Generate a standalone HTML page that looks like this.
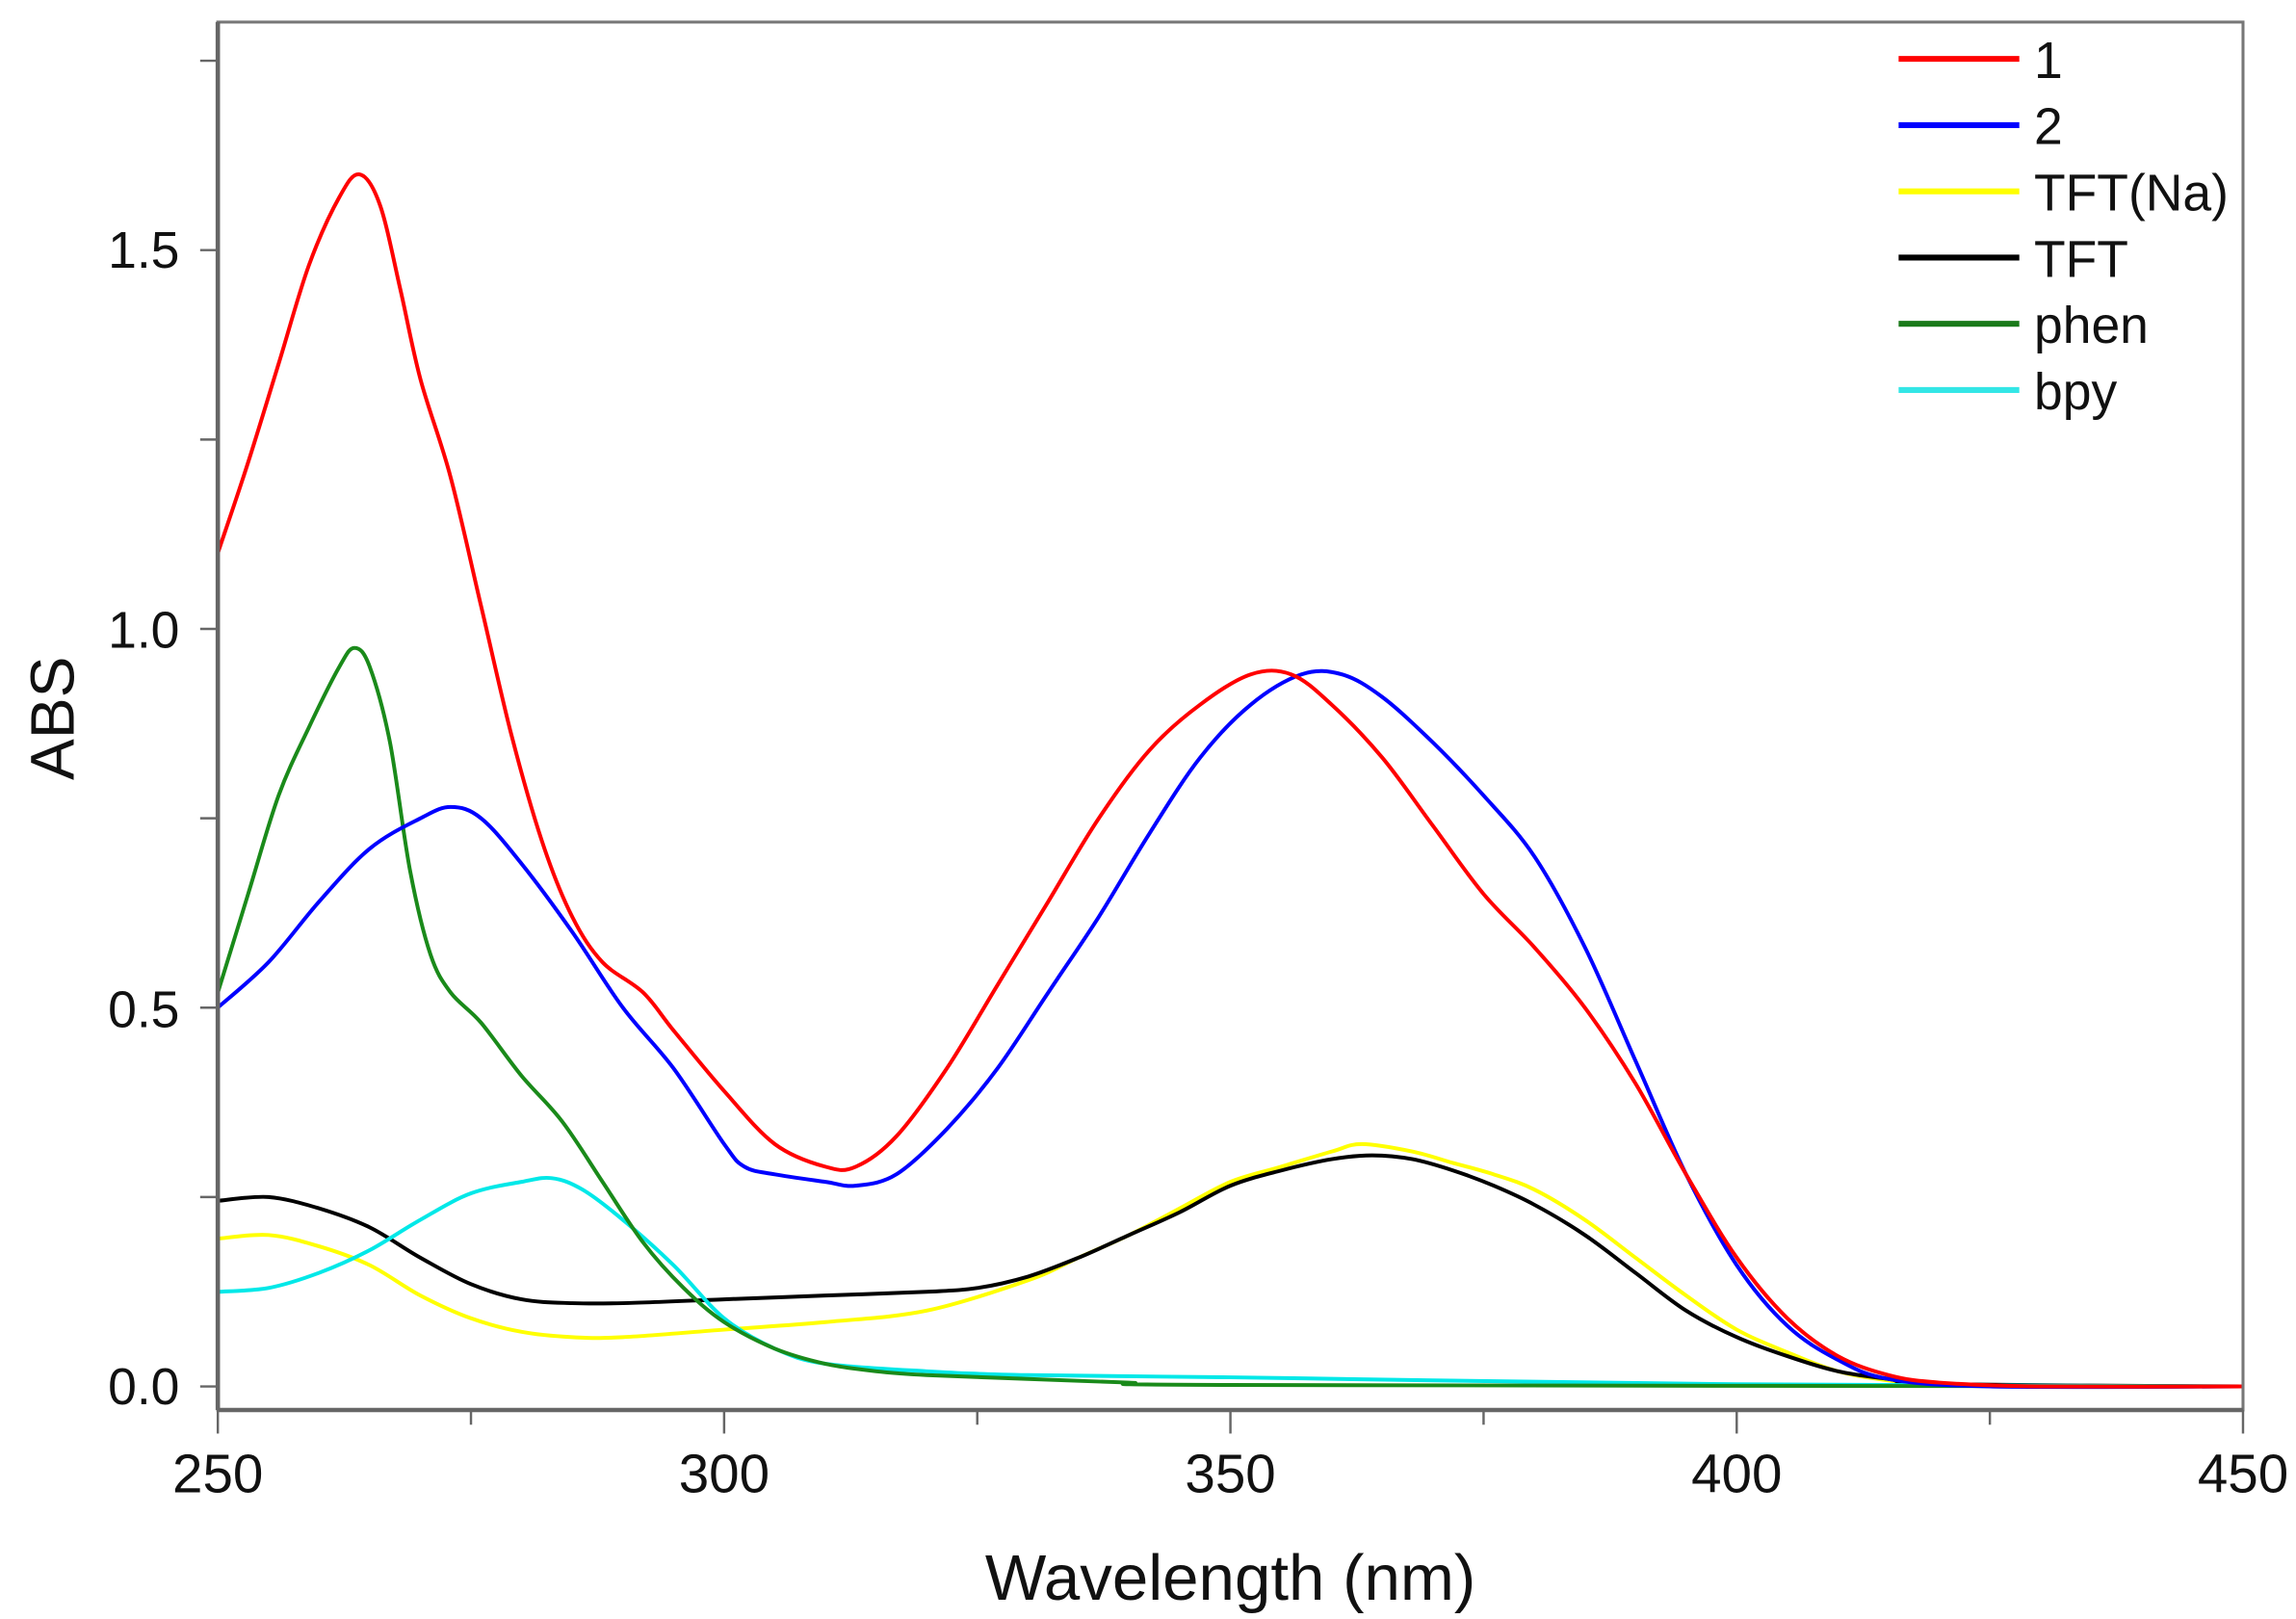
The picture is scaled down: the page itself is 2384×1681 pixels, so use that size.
<!DOCTYPE html>
<html><head><meta charset="utf-8"><style>
html,body{margin:0;padding:0;background:#fff;}
svg{display:block;}
text{font-family:"Liberation Sans",Arial,sans-serif;fill:#111;}
</style></head><body>
<svg id="s" width="2384" height="1681" viewBox="0 0 1560 1100" preserveAspectRatio="none" xmlns="http://www.w3.org/2000/svg">
<rect x="0" y="0" width="1560" height="1100" fill="#fff"/>
<g id="curves" fill="none" stroke-width="2.6" stroke-linejoin="round"></g>
<rect x="148" y="15" width="1376" height="943" fill="none" stroke="#777" stroke-width="2"/>
<line x1="148" y1="958" x2="1524" y2="958" stroke="#666" stroke-width="3"/>
<line x1="148" y1="15" x2="148" y2="958" stroke="#666" stroke-width="3"/>
<g id="ticks" stroke="#666" stroke-width="1.6"></g>
<g font-size="35" text-anchor="end">
<text x="122" y="954">0.0</text>
<text x="122" y="698">0.5</text>
<text x="122" y="440">1.0</text>
<text x="122" y="182">1.5</text>
</g>
<g font-size="37" text-anchor="middle">
<text x="148" y="1014">250</text>
<text x="492" y="1014">300</text>
<text x="836" y="1014">350</text>
<text x="1180" y="1014">400</text>
<text x="1524" y="1014">450</text>
</g>
<text x="836" y="1087" font-size="44" text-anchor="middle">Wavelength (nm)</text>
<text transform="translate(50,488) rotate(-90)" font-size="42" text-anchor="middle">ABS</text>
<g stroke-width="4">
<line x1="1290" y1="40" x2="1372" y2="40" stroke="#ff0000"/>
<line x1="1290" y1="85" x2="1372" y2="85" stroke="#0000ff"/>
<line x1="1290" y1="130" x2="1372" y2="130" stroke="#ffff00"/>
<line x1="1290" y1="175" x2="1372" y2="175" stroke="#000"/>
<line x1="1290" y1="220" x2="1372" y2="220" stroke="#1a7a1a"/>
<line x1="1290" y1="265" x2="1372" y2="265" stroke="#33e6e6"/>
</g>
<g font-size="35">
<text x="1382" y="53">1</text>
<text x="1382" y="98">2</text>
<text x="1382" y="143">TFT(Na)</text>
<text x="1382" y="188">TFT</text>
<text x="1382" y="233">phen</text>
<text x="1382" y="278">bpy</text>
</g>
</svg>
<script>
const X=w=>148+(w-250)*6.88, Y=v=>942-514.7*v;
const S={
"#ffff00":[[250,.195],[255,.2],[260,.185],[265,.16],[270,.12],[275,.09],[280,.072],[285,.065],[290,.065],[300,.075],[310,.085],[320,.1],[330,.14],[335,.17],[340,.2],[345,.235],[350,.27],[355,.29],[360,.31],[363,.32],[368,.31],[372,.295],[376,.28],[380,.26],[385,.22],[390,.17],[395,.12],[400,.075],[405,.045],[410,.02],[415,.008],[420,.002],[450,0]],
"#000000":[[250,.245],[255,.25],[260,.235],[265,.21],[270,.17],[275,.135],[280,.115],[285,.11],[290,.11],[300,.115],[310,.12],[320,.125],[325,.13],[330,.145],[335,.17],[340,.2],[345,.23],[350,.265],[355,.285],[360,.3],[364,.305],[368,.3],[372,.285],[376,.265],[380,.24],[385,.2],[390,.15],[395,.1],[400,.065],[405,.04],[410,.02],[415,.01],[420,.003],[450,0]],
"#00e8e8":[[250,.125],[255,.13],[260,.15],[265,.18],[270,.22],[275,.255],[280,.27],[283,.275],[286,.26],[290,.22],[295,.16],[300,.09],[305,.05],[310,.03],[320,.02],[330,.015],[350,.012],[370,.008],[400,.003],[450,0]],
"#1a8a1a":[[250,.52],[253,.65],[256,.78],[259,.87],[262,.95],[263.5,.975],[265,.95],[267,.85],[269,.68],[271,.57],[273,.52],[276,.48],[280,.41],[284,.35],[288,.27],[292,.19],[296,.13],[300,.085],[305,.05],[310,.03],[315,.02],[320,.015],[330,.01],[340,.005],[350,.002],[450,0]],
"#0000ff":[[250,.5],[255,.56],[260,.64],[265,.71],[270,.75],[273,.765],[276,.75],[280,.69],[285,.6],[290,.5],[295,.42],[300,.32],[302,.29],[305,.28],[310,.27],[313,.265],[317,.28],[322,.34],[327,.42],[332,.52],[337,.62],[342,.73],[347,.83],[352,.9],[357,.94],[361,.94],[365,.91],[370,.85],[375,.78],[380,.7],[385,.58],[390,.43],[395,.28],[400,.16],[405,.08],[410,.035],[415,.01],[425,0],[450,0]],
"#ff0000":[[250,1.1],[253,1.22],[256,1.35],[259,1.48],[262,1.57],[264,1.6],[266,1.56],[268,1.45],[270,1.33],[273,1.2],[276,1.03],[279,.86],[282,.72],[285,.62],[288,.56],[292,.52],[295,.47],[300,.39],[305,.32],[310,.29],[313,.29],[317,.33],[322,.42],[327,.53],[332,.64],[337,.75],[342,.84],[347,.9],[352,.94],[356,.94],[360,.9],[365,.83],[370,.74],[375,.65],[380,.58],[385,.5],[390,.4],[395,.28],[400,.17],[405,.09],[410,.04],[415,.015],[420,.005],[430,0],[450,0]]
};
const ns="http://www.w3.org/2000/svg",g=document.getElementById('curves');
for(const c in S){const p=S[c];let d="M"+X(p[0][0]).toFixed(1)+","+Y(p[0][1]).toFixed(1);
for(let i=0;i<p.length-1;i++){const p0=p[Math.max(0,i-1)],p1=p[i],p2=p[i+1],p3=p[Math.min(p.length-1,i+2)];
const c1x=X(p1[0])+(X(p2[0])-X(p0[0]))/6,c1y=Y(p1[1])+(Y(p2[1])-Y(p0[1]))/6,c2x=X(p2[0])-(X(p3[0])-X(p1[0]))/6,c2y=Y(p2[1])-(Y(p3[1])-Y(p1[1]))/6;
d+=" C"+c1x.toFixed(1)+","+c1y.toFixed(1)+" "+c2x.toFixed(1)+","+c2y.toFixed(1)+" "+X(p2[0]).toFixed(1)+","+Y(p2[1]).toFixed(1);}
const e=document.createElementNS(ns,'path');e.setAttribute('d',d);e.setAttribute('stroke',c);g.appendChild(e);}
const t=document.getElementById('ticks');
function L(a,b,c,d){const e=document.createElementNS(ns,'line');e.setAttribute('x1',a);e.setAttribute('y1',b);e.setAttribute('x2',c);e.setAttribute('y2',d);t.appendChild(e);}
for(let v=0;v<=1.76;v+=0.25){L(136,Y(v),148,Y(v));}
for(let w=250;w<=450;w+=25){L(X(w),958,X(w),w%50==0?974:968);}
</script>
</body></html>
